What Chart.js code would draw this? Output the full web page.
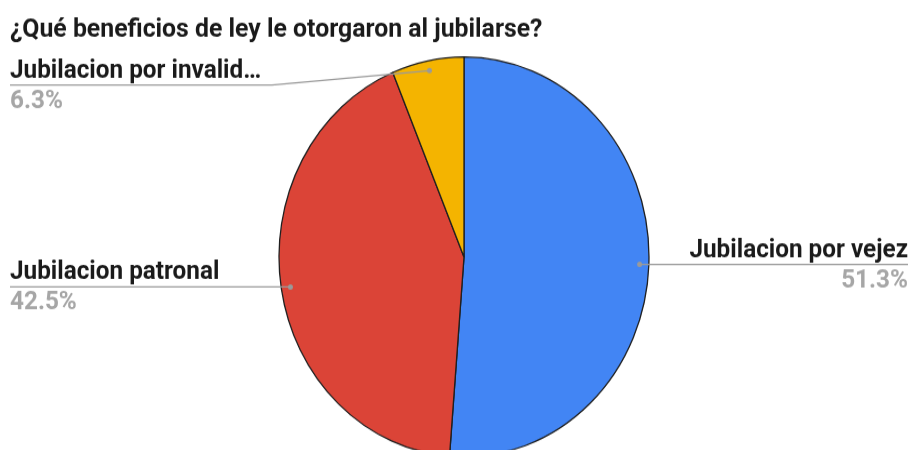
<!DOCTYPE html>
<html>
<head>
<meta charset="utf-8">
<script src="https://cdn.jsdelivr.net/npm/chart.js@4.4.1/dist/chart.umd.min.js"></script>
<style>
  html, body { margin: 0; padding: 0; background: #fff; overflow: hidden; }
  #frame { width: 921px; height: 450px; overflow: hidden; }
  /* chart is drawn at 921x430 and stretched a little in height */
  #wrap { width: 921px; height: 430px; transform: scaleY(1.081); transform-origin: 0 0; }
</style>
</head>
<body>
<div id="frame"><div id="wrap"><canvas id="pieChart"></canvas></div></div>
<script>
const chartTitle = '¿Qué beneficios de ley le otorgaron al jubilarse?';
const categories = ['Jubilacion por vejez', 'Jubilacion patronal', 'Jubilacion por invalid…'];
const shares = [51.3, 42.5, 6.3];
const sliceColors = ['#4285f4', '#db4437', '#f4b400'];

// where each label sits: side of the chart and the y of its underline (null = at the dot)
const labelSpots = [
    { side: 'right', lineY: null },
    { side: 'left', lineY: null },
    { side: 'left', lineY: 78.6, elbowX: 272 }
];

const FONT = 'Roboto, "Noto Sans", sans-serif';

const calloutPlugin = {
    id: 'callouts',
    afterDraw(chart) {
        const ctx = chart.ctx;
        ctx.save();

        // title
        ctx.fillStyle = '#1a1a1a';
        ctx.font = 'bold 24.8px ' + FONT;
        ctx.textAlign = 'left';
        ctx.textBaseline = 'alphabetic';
        ctx.fillText(chartTitle, 10, 34);

        const meta = chart.getDatasetMeta(0);
        meta.data.forEach((arc, i) => {
            const p = arc.getProps(['x', 'y', 'startAngle', 'endAngle', 'outerRadius'], true);
            const mid = (p.startAngle + p.endAngle) / 2;
            const dotX = p.x + Math.cos(mid) * p.outerRadius * 0.95;
            const dotY = p.y + Math.sin(mid) * p.outerRadius * 0.95;
            const spot = labelSpots[i];
            const lineY = spot.lineY === null ? dotY : spot.lineY;

            // leader line
            ctx.strokeStyle = '#9a9a9a';
            ctx.lineWidth = 1.2;
            ctx.beginPath();
            if (spot.side === 'right') {
                ctx.moveTo(dotX, dotY);
                ctx.lineTo(908, lineY);
            } else {
                ctx.moveTo(10, lineY);
                if (spot.elbowX) ctx.lineTo(spot.elbowX, lineY);
                ctx.lineTo(dotX, dotY);
            }
            ctx.stroke();
            ctx.fillStyle = '#9a9a9a';
            ctx.beginPath();
            ctx.arc(dotX, dotY, 2.5, 0, Math.PI * 2);
            ctx.fill();

            // label text and percentage
            ctx.font = 'bold 24.3px ' + FONT;
            const tx = spot.side === 'right' ? 908 : 10;
            ctx.textAlign = spot.side === 'right' ? 'right' : 'left';
            ctx.fillStyle = '#1a1a1a';
            ctx.fillText(categories[i], tx, lineY - 7);
            ctx.fillStyle = '#a6a6a6';
            ctx.fillText(shares[i].toFixed(1) + '%', tx, lineY + 21);
        });
        ctx.restore();
    }
};

new Chart(document.getElementById('pieChart'), {
    type: 'pie',
    data: {
        labels: categories,
        datasets: [{
            data: shares,
            backgroundColor: sliceColors,
            borderColor: '#1f1f1f',
            borderWidth: 1.3,
            radius: 185
        }]
    },
    options: {
        responsive: true,
        maintainAspectRatio: false,
        animation: false,
        layout: { padding: { left: 279, right: 272, top: 52.7, bottom: 7.3 } },
        plugins: {
            legend: { display: false },
            tooltip: { enabled: false },
            title: { display: false }
        }
    },
    plugins: [calloutPlugin]
});
</script>
</body>
</html>
